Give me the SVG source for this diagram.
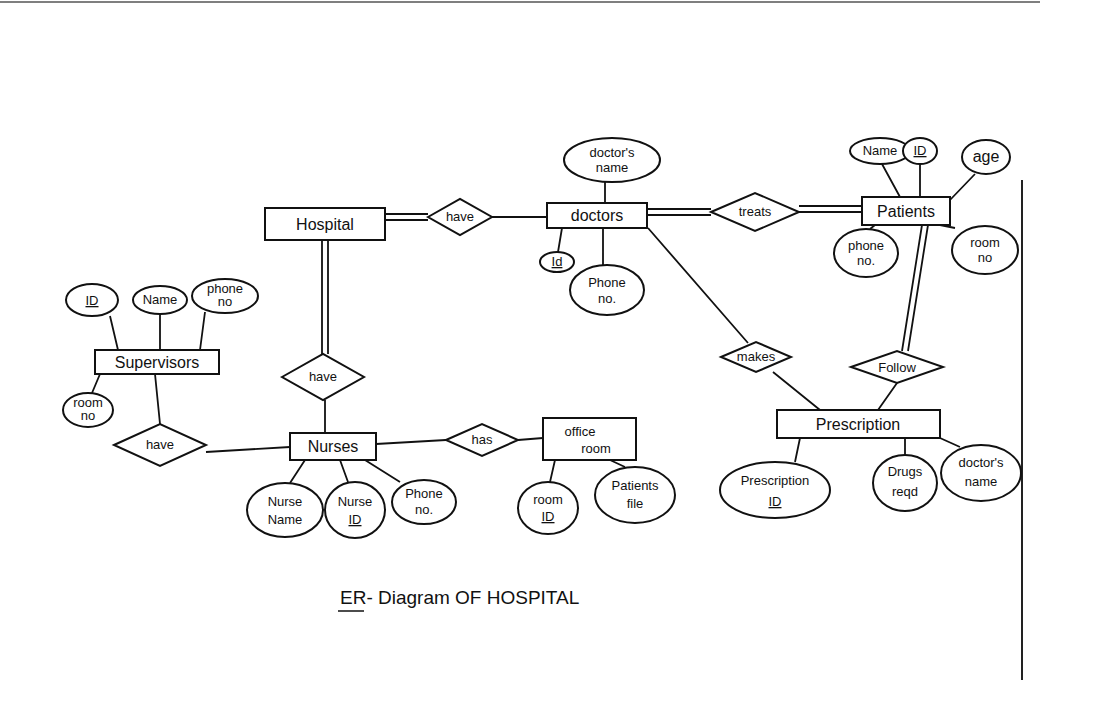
<svg xmlns="http://www.w3.org/2000/svg" width="1120" height="709" viewBox="0 0 1120 709">
<style>
.s{fill:#fff;stroke:#111;stroke-width:2}
.l{stroke:#111;stroke-width:1.8;fill:none}
text{font-family:"Liberation Sans",Arial,sans-serif;fill:#111;text-anchor:middle}
.e{font-size:13px}.r{font-size:16px}
</style>
<rect width="1120" height="709" fill="#fff"/>
<line x1="0" y1="2" x2="1040" y2="2" stroke="#555" stroke-width="1.5"/>
<line x1="1022" y1="180" x2="1022" y2="680" stroke="#222" stroke-width="2"/>
<g id="connectors">
<path class="l" d="M385,214H428M385,220H428"/>
<path class="l" d="M492,217H547"/>
<path class="l" d="M647,209H711M647,215H711"/>
<path class="l" d="M799,206H862M799,212H862"/>
<path class="l" d="M322,240V354M328,240V354"/>
<path class="l" d="M325,400V433"/>
<path class="l" d="M155,374L160,424M206,452L290,447"/>
<path class="l" d="M376,444L446,440M518,440L543,438"/>
<path class="l" d="M648,228L748,343M773,372L820,410"/>
<path class="l" d="M922,225L902,351M928,225L908,351M897,383L878,410"/>
<path class="l" d="M605,182V203M562,228L558,252M603,228V265"/>
<path class="l" d="M882,164L900,197M920,164V197M975,174L950,200M875,225L870,229M940,225L955,228"/>
<path class="l" d="M110,316L118,350M160,314V350M205,312L200,350M100,374L92,393"/>
<path class="l" d="M305,460L290,483M340,460L348,482M365,460L400,482"/>
<path class="l" d="M555,460L550,482M610,460L625,467"/>
<path class="l" d="M800,438L795,462M905,438V455M940,438L960,447"/>
</g>
<g id="hospital"><rect class="s" x="265" y="208" width="120" height="32"/><text class="r" x="325" y="230">Hospital</text></g>
<g id="have1"><polygon class="s" points="428,217 460,199 492,217 460,235"/><text class="e" x="460" y="221">have</text></g>
<g id="doctors"><rect class="s" x="547" y="203" width="100" height="25"/><text class="r" x="597" y="221">doctors</text></g>
<g id="dname"><ellipse class="s" cx="612" cy="160" rx="48" ry="22"/><text class="e" x="612" y="157">doctor's</text><text class="e" x="612" y="172">name</text></g>
<g id="did"><ellipse class="s" cx="557" cy="262" rx="17" ry="10"/><text class="e" x="557" y="266" text-decoration="underline">Id</text></g>
<g id="dphone"><ellipse class="s" cx="607" cy="290" rx="37" ry="25"/><text class="e" x="607" y="287">Phone</text><text class="e" x="607" y="303">no.</text></g>
<g id="treats"><polygon class="s" points="711,212 755,193 799,212 755,231"/><text class="e" x="755" y="216">treats</text></g>
<g id="patients"><rect class="s" x="862" y="197" width="88" height="28"/><text class="r" x="906" y="217">Patients</text></g>
<g id="pname"><ellipse class="s" cx="880" cy="151" rx="30" ry="13"/><text class="e" x="880" y="155">Name</text></g>
<g id="pid"><ellipse class="s" cx="920" cy="151" rx="17" ry="13"/><text class="e" x="920" y="155" text-decoration="underline">ID</text></g>
<g id="page"><ellipse class="s" cx="986" cy="157" rx="24" ry="17"/><text class="r" x="986" y="162">age</text></g>
<g id="pphone"><ellipse class="s" cx="866" cy="253" rx="32" ry="24"/><text class="e" x="866" y="250">phone</text><text class="e" x="866" y="265">no.</text></g>
<g id="proom"><ellipse class="s" cx="985" cy="250" rx="33" ry="24"/><text class="e" x="985" y="247">room</text><text class="e" x="985" y="262">no</text></g>
<g id="follow"><polygon class="s" points="851,367 897,351 943,367 897,383"/><text class="e" x="897" y="372">Follow</text></g>
<g id="makes"><polygon class="s" points="721,357 756,342 791,357 756,372"/><text class="e" x="756" y="361">makes</text></g>
<g id="prescription"><rect class="s" x="777" y="410" width="163" height="28"/><text class="r" x="858" y="430">Prescription</text></g>
<g id="prid"><ellipse class="s" cx="775" cy="490" rx="55" ry="28"/><text class="e" x="775" y="485">Prescription</text><text class="e" x="775" y="506" text-decoration="underline">ID</text></g>
<g id="drugs"><ellipse class="s" cx="905" cy="483" rx="32" ry="28"/><text class="e" x="905" y="476">Drugs</text><text class="e" x="905" y="496">reqd</text></g>
<g id="prdname"><ellipse class="s" cx="981" cy="473" rx="40" ry="28"/><text class="e" x="981" y="467">doctor's</text><text class="e" x="981" y="486">name</text></g>
<g id="supervisors"><rect class="s" x="95" y="350" width="124" height="24"/><text class="r" x="157" y="368">Supervisors</text></g>
<g id="sid"><ellipse class="s" cx="92" cy="300" rx="26" ry="16"/><text class="e" x="92" y="305" text-decoration="underline">ID</text></g>
<g id="sname"><ellipse class="s" cx="160" cy="300" rx="27" ry="14"/><text class="e" x="160" y="304">Name</text></g>
<g id="sphone"><ellipse class="s" cx="225" cy="296" rx="33" ry="17"/><text class="e" x="225" y="293">phone</text><text class="e" x="225" y="306">no</text></g>
<g id="sroom"><ellipse class="s" cx="88" cy="410" rx="25" ry="17"/><text class="e" x="88" y="407">room</text><text class="e" x="88" y="420">no</text></g>
<g id="have2"><polygon class="s" points="114,445 160,424 206,445 160,466"/><text class="e" x="160" y="449">have</text></g>
<g id="have3"><polygon class="s" points="282,377 323,354 364,377 323,400"/><text class="e" x="323" y="381">have</text></g>
<g id="nurses"><rect class="s" x="290" y="433" width="86" height="27"/><text class="r" x="333" y="452">Nurses</text></g>
<g id="has"><polygon class="s" points="446,440 482,424 518,440 482,456"/><text class="e" x="482" y="444">has</text></g>
<g id="office"><rect class="s" x="543" y="418" width="93" height="42"/><text class="e" x="580" y="436">office</text><text class="e" x="596" y="453">room</text></g>
<g id="nname"><ellipse class="s" cx="285" cy="510" rx="38" ry="27"/><text class="e" x="285" y="506">Nurse</text><text class="e" x="285" y="524">Name</text></g>
<g id="nid"><ellipse class="s" cx="355" cy="510" rx="30" ry="28"/><text class="e" x="355" y="506">Nurse</text><text class="e" x="355" y="524" text-decoration="underline">ID</text></g>
<g id="nphone"><ellipse class="s" cx="424" cy="502" rx="32" ry="22"/><text class="e" x="424" y="498">Phone</text><text class="e" x="424" y="514">no.</text></g>
<g id="roomid"><ellipse class="s" cx="548" cy="508" rx="30" ry="26"/><text class="e" x="548" y="504">room</text><text class="e" x="548" y="521" text-decoration="underline">ID</text></g>
<g id="pfile"><ellipse class="s" cx="635" cy="495" rx="40" ry="28"/><text class="e" x="635" y="490">Patients</text><text class="e" x="635" y="508">file</text></g>
<g id="title"><text x="340" y="604" style="font-size:19px;text-anchor:start">ER- Diagram OF HOSPITAL</text><line x1="338" y1="611" x2="364" y2="611" stroke="#111" stroke-width="1.5"/></g>
</svg>
